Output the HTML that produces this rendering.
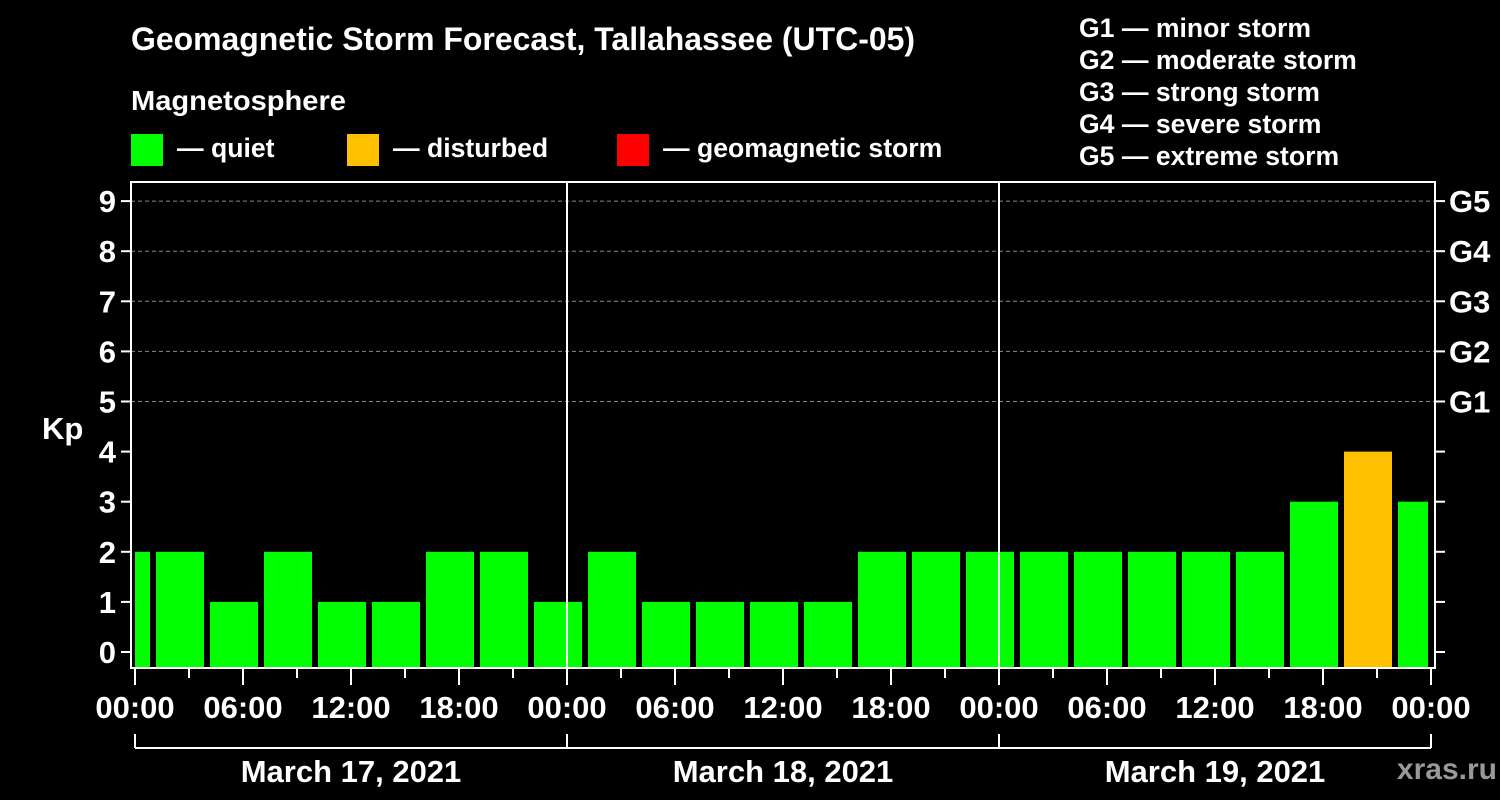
<!DOCTYPE html>
<html><head><meta charset="utf-8"><style>
html,body{margin:0;padding:0;background:#000;}
svg{display:block;font-family:"Liberation Sans",sans-serif;font-weight:bold;}
</style></head><body>
<svg id="c" width="1500" height="800">
<text x="131" y="50" fill="#fff" font-size="32" textLength="784" lengthAdjust="spacingAndGlyphs">Geomagnetic Storm Forecast, Tallahassee (UTC-05)</text>
<text x="131" y="110" fill="#fff" font-size="28" textLength="215" lengthAdjust="spacingAndGlyphs">Magnetosphere</text>
<rect x="131" y="134" width="32" height="32" fill="#00ff00"/>
<text x="177" y="157" fill="#fff" font-size="26.6">— quiet</text>
<rect x="347" y="134" width="32" height="32" fill="#ffc000"/>
<text x="393" y="157" fill="#fff" font-size="26.6">— disturbed</text>
<rect x="617" y="134" width="32" height="32" fill="#ff0000"/>
<text x="663" y="157" fill="#fff" font-size="26.6">— geomagnetic storm</text>
<g fill="#fff" font-size="26.6">
<text x="1079" y="37">G1 — minor storm</text>
<text x="1079" y="69">G2 — moderate storm</text>
<text x="1079" y="101">G3 — strong storm</text>
<text x="1079" y="133">G4 — severe storm</text>
<text x="1079" y="165">G5 — extreme storm</text>
</g>
<text x="42" y="439" fill="#fff" font-size="31">Kp</text>
<text x="1497" y="779" fill="#999" font-size="30" text-anchor="end">xras.ru</text>
<g id="plot"></g>
</svg>
<script>
const kpValues=[2,2,1,2,1,1,2,2,1,2,1,1,1,1,2,2,2,2,2,2,2,2,3,4,3];
const binStartHours=[-2,1,4,7,10,13,16,19,22,25,28,31,34,37,40,43,46,49,52,55,58,61,64,67,70];
const xTickLabels=["00:00","06:00","12:00","18:00","00:00","06:00","12:00","18:00","00:00","06:00","12:00","18:00","00:00"];
const dayLabels=["March 17, 2021","March 18, 2021","March 19, 2021"];
const gLabels=["G1","G2","G3","G4","G5"];
const NS="http://www.w3.org/2000/svg";
const g=document.getElementById('plot');
const X0=135,PX_H=18,XMIN=131,XMAX=1435,TOP=182,BOT=668;
const x=h=>X0+h*PX_H;
const y=v=>652-v*50.1;
function mk(t,a){const e=document.createElementNS(NS,t);for(const k in a)e.setAttribute(k,a[k]);g.appendChild(e);return e;}
for(let v=5;v<=9;v++){const l=mk('line',{x1:XMIN,x2:XMAX,y1:y(v),y2:y(v),stroke:'#888','stroke-dasharray':'4,3'});

}
kpValues.forEach((v,i)=>{let a=x(binStartHours[i])+3,b=x(binStartHours[i])+51;a=Math.max(a,X0);b=Math.min(b,x(72)-3);
const col=v>=5?'#ff0000':(v>=4?'#ffc000':'#00ff00');
const r=mk('rect',{x:a,y:y(v),width:b-a,height:BOT-y(v),fill:col});

});
[24,48].forEach(h=>{const l=mk('line',{x1:x(h),x2:x(h),y1:TOP,y2:BOT,stroke:'#fff','stroke-width':2});

});
const f=mk('rect',{x:XMIN,y:TOP,width:XMAX-XMIN,height:BOT-TOP,fill:'none',stroke:'#fff','stroke-width':2});


for(let v=0;v<=9;v++){mk('line',{x1:XMIN-10,x2:XMIN,y1:y(v),y2:y(v),stroke:'#fff','stroke-width':2});
mk('line',{x1:XMAX,x2:XMAX+10,y1:y(v),y2:y(v),stroke:'#fff','stroke-width':2});
const t=mk('text',{x:116,y:y(v)+11,fill:'#fff','font-size':31,'text-anchor':'end'});t.textContent=v;

}
gLabels.forEach((s,i)=>{const t=mk('text',{x:1449,y:y(5+i)+11,fill:'#fff','font-size':31});t.textContent=s;

});
for(let h=0;h<=72;h+=3){mk('line',{x1:x(h),x2:x(h),y1:BOT,y2:BOT+(h%6==0?17:10),stroke:'#fff','stroke-width':2});}
xTickLabels.forEach((s,i)=>{const t=mk('text',{x:x(i*6),y:718,fill:'#fff','font-size':31,'text-anchor':'middle'});t.textContent=s;

});
mk('line',{x1:x(0),x2:x(72),y1:748,y2:748,stroke:'#fff','stroke-width':2});
for(let d=0;d<=3;d++)mk('line',{x1:x(d*24),x2:x(d*24),y1:734,y2:748,stroke:'#fff','stroke-width':2});
dayLabels.forEach((s,i)=>{const t=mk('text',{x:x(i*24+12),y:782,fill:'#fff','font-size':31,'text-anchor':'middle'});t.textContent=s;

});
</script>
</body></html>
